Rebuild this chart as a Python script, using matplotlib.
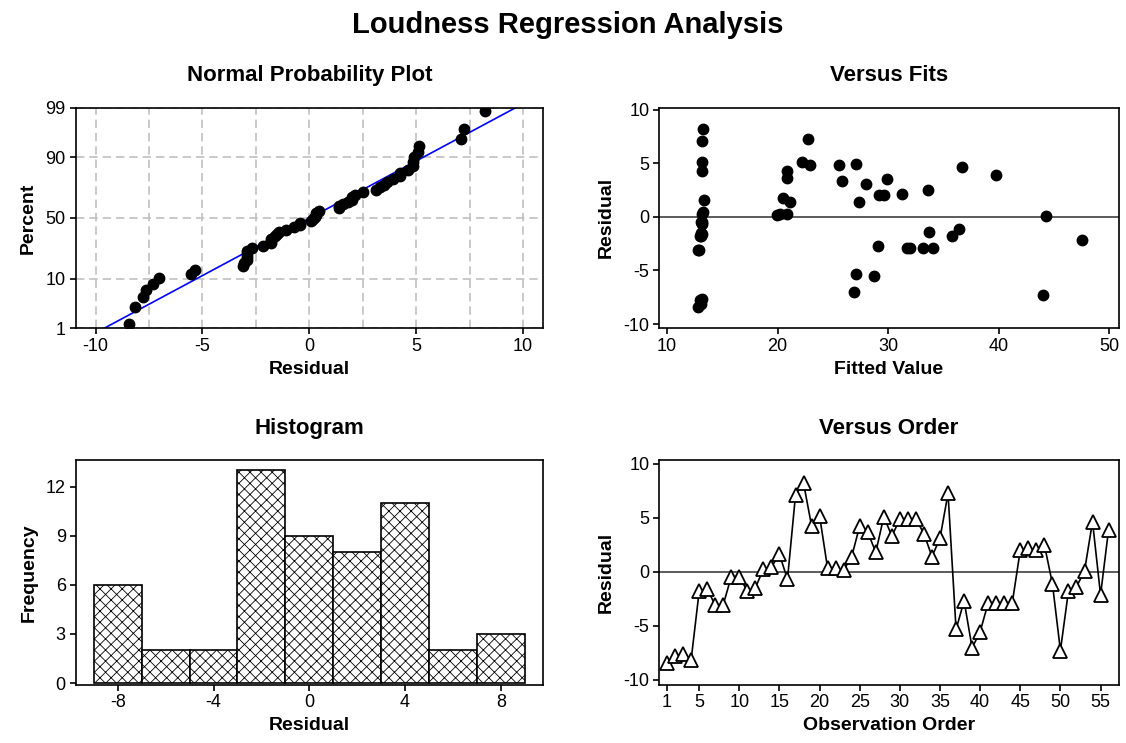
import matplotlib
matplotlib.use("Agg")
import matplotlib.pyplot as plt
from matplotlib.ticker import FixedLocator, MultipleLocator
from statistics import NormalDist
import numpy as np

plt.rcParams['font.family'] = ['Liberation Sans', 'DejaVu Sans']
plt.rcParams['axes.unicode_minus'] = False
plt.rcParams['hatch.linewidth'] = 0.6
plt.rcParams['hatch.color'] = '#333333'

# residuals in observation order
resid = [-8.45, -7.8, -7.65, -8.15, -1.8, -1.6, -3.1, -3.05, -0.45, -0.45,
         -1.8, -1.5, 0.25, 0.45, 1.6, -0.7, 7.1, 8.2, 4.25, 5.15,
         0.3, 0.3, 0.15, 1.4, 4.25, 3.65, 1.8, 5.1, 3.3, 4.85,
         4.85, 4.9, 3.5, 1.4, 3.1, 7.25, -5.35, -2.7, -7.05, -5.55,
         -2.9, -2.9, -2.9, -2.9, 2.0, 2.15, 2.0, 2.5, -1.1, -7.3,
         -1.8, -1.4, 0.07, 4.63, -2.15, 3.9]
fitted = [12.8, 13.0, 13.2, 13.1, 13.1, 13.2, 12.8, 12.9, 13.2, 13.1,
          13.0, 13.1, 13.2, 13.3, 13.35, 13.2, 13.15, 13.3, 13.15, 13.15,
          20.2, 20.83, 19.95, 21.13, 20.89, 20.89, 20.53, 22.19, 25.8, 22.94,
          25.6, 27.07, 29.9, 27.4, 27.98, 22.73, 27.07, 29.07, 26.9, 28.7,
          31.7, 32.0, 33.2, 34.1, 29.2, 31.24, 29.6, 33.6, 36.46, 44.06,
          35.76, 33.74, 44.27, 36.67, 47.53, 39.75]
obs = np.arange(1, len(resid) + 1)

pct_ticks = [1, 10, 50, 90, 99]
hist_edges = np.arange(-9, 10, 2)
order_ticks = [1, 5, 10, 15, 20, 25, 30, 35, 40, 45, 50, 55]

nd = NormalDist()


def prob_fwd(p):
    p = np.clip(np.asarray(p, dtype=float) / 100.0, 1e-9, 1 - 1e-9)
    return np.array([nd.inv_cdf(v) for v in p.ravel()]).reshape(p.shape)


def prob_inv(z):
    z = np.asarray(z, dtype=float)
    return np.array([nd.cdf(v) * 100.0 for v in z.ravel()]).reshape(z.shape)


TICK_FS = 13
LAB_FS = 14
SUB_FS = 16


def style(ax):
    for s in ax.spines.values():
        s.set_linewidth(1.2)
    ax.tick_params(axis='both', which='major', direction='out', length=4,
                   width=1.2, labelsize=TICK_FS, pad=3, top=False, right=False)


fig = plt.figure(figsize=(11.26, 7.43), dpi=100)
fig.text(0.504, 0.956, "Loudness Regression Analysis", ha='center',
         va='baseline', fontsize=21, fontweight='bold')

# --- normal probability plot
ax1 = fig.add_axes([0.0671, 0.5581, 0.4152, 0.2972])
n = len(resid)
srt = np.sort(resid)
pp = (np.arange(1, n + 1) - 0.3) / (n + 0.4) * 100
mu = np.mean(resid)
sd = np.std(resid, ddof=1)
ax1.set_yscale('function', functions=(prob_fwd, prob_inv))
line_p = np.array([1.0, 99.0])
line_x = mu + sd * np.array([nd.inv_cdf(v / 100) for v in line_p])
ax1.plot(line_x, line_p, color='#0000ff', lw=1.2, zorder=2)
ax1.plot(srt, pp, 'o', color='black', ms=7.5, zorder=3)
ax1.set_ylim(1, 99)
ax1.set_xlim(-10.94, 10.94)
ax1.yaxis.set_major_locator(FixedLocator(pct_ticks))
ax1.yaxis.set_minor_locator(FixedLocator([]))
ax1.set_yticklabels([str(v) for v in pct_ticks])
ax1.xaxis.set_major_locator(MultipleLocator(5))
ax1.xaxis.set_minor_locator(MultipleLocator(2.5))
ax1.tick_params(axis='x', which='minor', length=0)
ax1.grid(True, which='both', axis='x', color='#c0c0c0', ls=(0, (5, 3)), lw=1.2)
ax1.grid(True, which='major', axis='y', color='#c0c0c0', ls=(0, (5, 3)), lw=1.2)
ax1.set_axisbelow(True)
style(ax1)
ax1.set_xlabel("Residual", fontsize=LAB_FS, fontweight='bold', labelpad=4)
ax1.set_ylabel("Percent", fontsize=LAB_FS, fontweight='bold', labelpad=6)
ax1.set_title("Normal Probability Plot", fontsize=SUB_FS, fontweight='bold', pad=19)

# --- versus fits
ax2 = fig.add_axes([0.5853, 0.5581, 0.4085, 0.2972])
ax2.axhline(0, color='#404040', lw=1.2, zorder=1)
ax2.plot(fitted, resid, 'o', color='black', ms=7.5, zorder=3)
ax2.set_xlim(9.28, 50.9)
ax2.set_ylim(-10.4, 10.2)
ax2.xaxis.set_major_locator(MultipleLocator(10))
ax2.yaxis.set_major_locator(MultipleLocator(5))
style(ax2)
ax2.set_xlabel("Fitted Value", fontsize=LAB_FS, fontweight='bold', labelpad=4)
ax2.set_ylabel("Residual", fontsize=LAB_FS, fontweight='bold', labelpad=6)
ax2.set_title("Versus Fits", fontsize=SUB_FS, fontweight='bold', pad=19)

# --- histogram
ax3 = fig.add_axes([0.0671, 0.0785, 0.4152, 0.3018])
ax3.hist(resid, bins=hist_edges, facecolor='white', edgecolor='black',
         hatch='xxx', linewidth=1.2)
ax3.set_xlim(-9.76, 9.76)
ax3.set_ylim(-0.1, 13.6)
ax3.xaxis.set_major_locator(MultipleLocator(4))
ax3.yaxis.set_major_locator(MultipleLocator(3))
style(ax3)
ax3.set_xlabel("Residual", fontsize=LAB_FS, fontweight='bold', labelpad=4)
ax3.set_ylabel("Frequency", fontsize=LAB_FS, fontweight='bold', labelpad=6)
ax3.set_title("Histogram", fontsize=SUB_FS, fontweight='bold', pad=19)

# --- versus order
ax4 = fig.add_axes([0.5853, 0.0785, 0.4085, 0.3018])
ax4.axhline(0, color='#404040', lw=1.2, zorder=1)
ax4.plot(obs, resid, '-^', color='black', lw=1.2, ms=10,
         markerfacecolor='white', markeredgecolor='black', markeredgewidth=1.3,
         zorder=3)
ax4.set_xlim(0.0, 57.3)
ax4.set_ylim(-10.46, 10.3)
ax4.xaxis.set_major_locator(FixedLocator(order_ticks))
ax4.yaxis.set_major_locator(MultipleLocator(5))
style(ax4)
ax4.set_xlabel("Observation Order", fontsize=LAB_FS, fontweight='bold', labelpad=4)
ax4.set_ylabel("Residual", fontsize=LAB_FS, fontweight='bold', labelpad=6)
ax4.set_title("Versus Order", fontsize=SUB_FS, fontweight='bold', pad=19)

fig.savefig("out.png", dpi=100)
